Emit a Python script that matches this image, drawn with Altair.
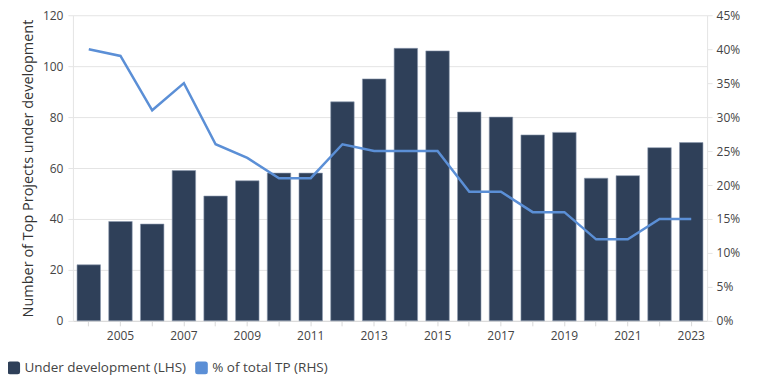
import altair as alt
import pandas as pd

years = list(range(2004, 2024))
under_dev = [22, 39, 38, 59, 49, 55, 58, 58, 86, 95, 107, 106, 82, 80, 73, 74, 56, 57, 68, 70]
pct_total = [0.40, 0.39, 0.31, 0.35, 0.26, 0.24, 0.21, 0.21, 0.26, 0.25, 0.25, 0.25,
             0.19, 0.19, 0.16, 0.16, 0.12, 0.12, 0.15, 0.15]
series = ["Under development (LHS)", "% of total TP (RHS)"]
colors = ["#2f4059", "#5b8fd6"]

df = pd.DataFrame({"year": years, "under": under_dev, "pct": pct_total,
                   "series": series[0]})

FONT = "Open Sans"
rounded = ("M -0.6,-1 L 0.6,-1 Q 1,-1 1,-0.6 L 1,0.6 Q 1,1 0.6,1 L -0.6,1 "
           "Q -1,1 -1,0.6 L -1,-0.6 Q -1,-1 -0.6,-1 Z")

x = alt.X("year:O", scale=alt.Scale(paddingInner=0.26, paddingOuter=0.13),
          axis=alt.Axis(title=None, labelAngle=0,
                        labelExpr="datum.value % 2 == 1 ? datum.label : ''",
                        domainColor="#d9d9d9", tickColor="#d9d9d9", tickSize=5,
                        labelPadding=5, grid=False))

bars = alt.Chart(df).mark_bar(stroke="#8d9bb0", strokeWidth=0.6).encode(
    x=x,
    y=alt.Y("under:Q", scale=alt.Scale(domain=[0, 120]),
            axis=alt.Axis(title="Number of Top Projects under development",
                          values=[0, 20, 40, 60, 80, 100, 120],
                          grid=True, gridColor="#e4e4e4",
                          domainColor="#e4e4e4", tickColor="#e4e4e4",
                          tickSize=5, labelPadding=5, titlePadding=7)),
    color=alt.Color("series:N",
                    scale=alt.Scale(domain=series, range=colors),
                    legend=alt.Legend(title=None, orient="none", direction="horizontal",
                                      legendX=-66, legendY=346,
                                      symbolType=rounded, symbolSize=160,
                                      symbolStrokeWidth=0, labelFontSize=13.5,
                                      labelColor="#444", labelFont=FONT,
                                      labelLimit=400,
                                      columnPadding=8, symbolOffset=0)),
)

line = alt.Chart(df).mark_line(color=colors[1], strokeWidth=2.5).encode(
    x=x,
    y=alt.Y("pct:Q", scale=alt.Scale(domain=[0, 0.45]),
            axis=alt.Axis(title=None, orient="right", format=".0%",
                          values=[0, 0.05, 0.1, 0.15, 0.2, 0.25, 0.3, 0.35, 0.4, 0.45],
                          grid=False, domainColor="#e4e4e4", tickColor="#e4e4e4",
                          tickSize=5, labelPadding=4)),
)

chart = alt.layer(bars, line).resolve_scale(y="independent").properties(
    width=635, height=306,
    autosize=alt.AutoSizeParams(type="none"),
    padding={"left": 65, "top": 7, "right": 66, "bottom": 55},
).configure_view(stroke=None).configure_axis(
    labelFont=FONT, titleFont=FONT, labelFontSize=12, titleFontSize=14.5,
    labelColor="#444", titleColor="#333", titleFontWeight="normal",
).configure_legend(labelFont=FONT)

chart.save("out.html", embed_options={"renderer": "svg", "actions": False})
